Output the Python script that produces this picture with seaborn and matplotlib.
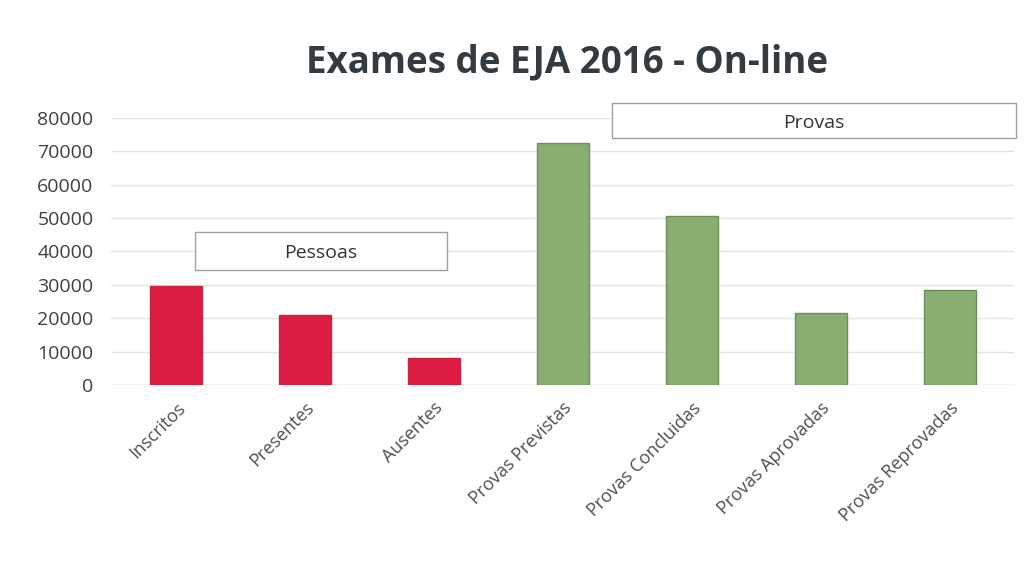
import matplotlib
matplotlib.use("Agg")
import matplotlib.pyplot as plt
import pandas as pd
import seaborn as sns
from matplotlib.patches import Rectangle

categorias = ['Inscritos', 'Presentes', 'Ausentes', 'Provas Previstas',
              'Provas Concluidas', 'Provas Aprovadas', 'Provas Reprovadas']
valores = [29800, 21000, 8100, 72500, 50700, 21500, 28400]
grupos = ['Pessoas', 'Pessoas', 'Pessoas', 'Provas', 'Provas', 'Provas', 'Provas']
cores = {'Pessoas': '#dc1c42', 'Provas': '#8aae72'}
bordas = {'Pessoas': '#c8243f', 'Provas': '#6a8e58'}

df = pd.DataFrame({'categoria': categorias, 'valor': valores, 'grupo': grupos})

sns.set_style("white")
plt.rcParams['font.family'] = ['Open Sans', 'DejaVu Sans']

fig = plt.figure(figsize=(10.35, 5.81), dpi=100)
ax = fig.add_axes([0.1077, 0.3373, 0.8723, 0.4597])

sns.barplot(data=df, x='categoria', y='valor', hue='grupo', palette=cores,
            dodge=False, width=0.4, saturation=1, legend=False, ax=ax, zorder=3)
for bar, g in zip(ax.patches, grupos):
    bar.set_edgecolor(bordas[g])
    bar.set_linewidth(1)

ax.set_ylim(0, 80000)
ax.set_yticks(range(0, 80001, 10000))
ax.set_xlim(-0.5, len(categorias) - 0.5)
ax.yaxis.grid(True, color='#e4e4e4', linewidth=1, zorder=0)
sns.despine(ax=ax, left=True, bottom=True, top=True, right=True)
ax.axhline(0, color='#dcdcdc', linewidth=1, zorder=2)
ax.set_xlabel('')
ax.set_ylabel('')
ax.tick_params(axis='y', labelsize=14, colors='#404040', length=0, pad=13)
ax.tick_params(axis='x', labelsize=13, colors='#505050', length=0, pad=10)
plt.setp(ax.get_xticklabels(), rotation=45, ha='right', rotation_mode='anchor')

# caixas de grupo
caixas = [('Pessoas', 0.147, 2.10, 34500, 45900),
          ('Provas', 3.38, 6.51, 74100, 84600)]
for texto, x0, x1, y0, y1 in caixas:
    ax.add_patch(Rectangle((x0, y0), x1 - x0, y1 - y0, facecolor='white',
                           edgecolor='#a0a0a0', linewidth=1, zorder=4, clip_on=False))
    ax.text((x0 + x1) / 2, (y0 + y1) / 2 - 800, texto, ha='center', va='center',
            fontsize=14, color='#333333', zorder=5)

fig.text(0.548, 0.893, 'Exames de EJA 2016 - On-line', ha='center', va='center',
         fontsize=26.5, fontweight='bold', color='#333a40')

fig.savefig('out.png', dpi=100, facecolor='white')
